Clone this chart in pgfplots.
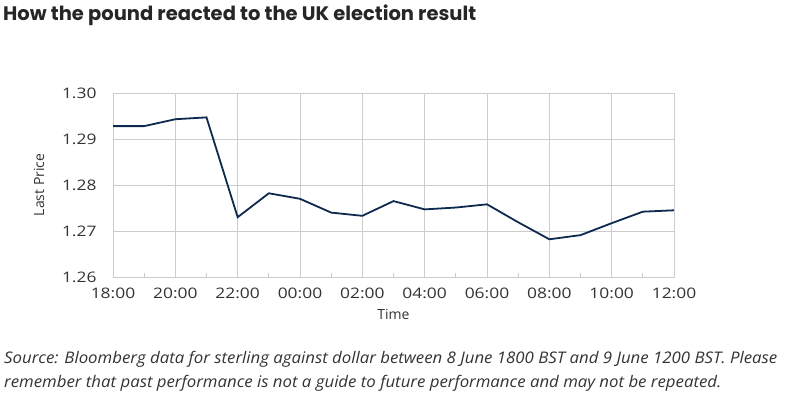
\documentclass[border=0pt]{standalone}
\usepackage{fontspec}
\usepackage{pgfplots}
\pgfplotsset{compat=1.18}
\setmainfont{Open Sans}
\newfontfamily\tickfont{Open Sans}[FakeStretch=1.2]
\newfontfamily\srcfont{Open Sans}[FakeStretch=1.05]
\newfontfamily\titlefont{Poppins}
\definecolor{linecol}{HTML}{0E2A50}
\definecolor{gridcol}{HTML}{CCCCCC}
\definecolor{txt}{HTML}{333333}
\begin{document}
\begin{tikzpicture}[x=1bp,y=1bp]
\path[use as bounding box] (0,0) rectangle (787,396);
\node[anchor=base west, inner sep=0pt, text=black!85] at (3,376) {\titlefont\fontsize{19.5bp}{22bp}\selectfont\bfseries How the pound reacted to the UK election result};
\begin{axis}[
  at={(113bp,119bp)}, anchor=origin,
  scale only axis, width=561bp, height=184bp,
  xmin=0, xmax=18, ymin=1.26, ymax=1.30,
  xtick={0,2,...,18},
  xticklabels={18:00,20:00,22:00,00:00,02:00,04:00,06:00,08:00,10:00,12:00},
  minor xtick={1,3,...,17},
  ytick={1.26,1.27,1.28,1.29,1.30},
  yticklabel style={/pgf/number format/fixed, /pgf/number format/fixed zerofill, /pgf/number format/precision=2},
  /pgf/number format/assume math mode=true,
  grid=major,
  major grid style={gridcol, line width=0.8bp},
  axis line style={gridcol, line width=0.8bp},
  major tick length=0pt,
  minor tick length=4bp,
  xtick align=inside,
  xtick pos=bottom, ytick pos=left,
  minor tick style={gridcol, line width=0.8bp},
  tick label style={font=\tickfont\fontsize{14.5bp}{16bp}\selectfont, text=txt},
  xticklabel style={yshift=-7bp},
  yticklabel style={xshift=-13bp},
  xlabel={Time}, ylabel={Last Price},
  label style={font=\fontsize{14bp}{16bp}\selectfont, text=txt},
  xlabel style={yshift=-4bp},
  ylabel style={yshift=11bp},
]
\addplot[linecol, line width=1.8bp, mark=none] coordinates {
(0,1.2928) (1,1.2928) (2,1.2943) (3,1.2947) (4,1.2730) (5,1.2782) (6,1.2770)
(7,1.2740) (8,1.2733) (9,1.2765) (10,1.2747) (11,1.2751) (12,1.2758)
(13,1.2719) (14,1.2682) (15,1.2691) (16,1.2717) (17,1.2742) (18,1.2745)
};
\end{axis}
\node[anchor=base west, inner sep=0pt, text=txt, align=left] at (4,33) {\srcfont\fontsize{16bp}{24bp}\selectfont\itshape Source: Bloomberg data for sterling against dollar between 8 June 1800 BST and 9 June 1200 BST. Please};
\node[anchor=base west, inner sep=0pt, text=txt, align=left] at (4,9) {\srcfont\fontsize{16bp}{24bp}\selectfont\itshape remember that past performance is not a guide to future performance and may not be repeated.};
\end{tikzpicture}
\end{document}
